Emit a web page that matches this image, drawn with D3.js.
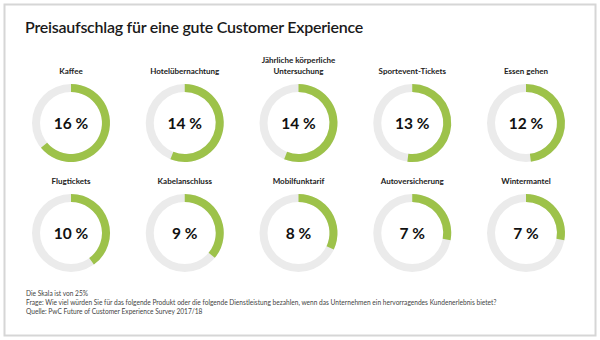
<!DOCTYPE html>
<html>
<head>
<meta charset="utf-8">
<title>Preisaufschlag</title>
<script src="https://cdnjs.cloudflare.com/ajax/libs/d3/7.8.5/d3.min.js"></script>
<style>
  body { margin: 0; background: #fff; }
  text { font-family: Lato, "Open Sans", sans-serif; }
</style>
</head>
<body>
<svg id="chart" width="600" height="340"></svg>
<script>
// data
var categories = ['Kaffee', 'Hotelübernachtung', 'Jährliche körperliche\nUntersuchung', 'Sportevent-Tickets', 'Essen gehen',
                  'Flugtickets', 'Kabelanschluss', 'Mobilfunktarif', 'Autoversicherung', 'Wintermantel'];
var values = [16, 14, 14, 13, 12, 10, 9, 8, 7, 7];
var scaleMax = 25;
var notes = [
  'Die Skala ist von 25%',
  'Frage: Wie viel würden Sie für das folgende Produkt oder die folgende Dienstleistung bezahlen, wenn das Unternehmen ein hervorragendes Kundenerlebnis bietet?',
  'Quelle: PwC Future of Customer Experience Survey 2017/18'
];

var svg = d3.select('#chart');

svg.append('rect')
   .attr('x', 4.5).attr('y', 4.5)
   .attr('width', 591).attr('height', 331)
   .attr('fill', '#fff')
   .attr('stroke', '#d6d6d6')
   .attr('stroke-width', 2);

svg.append('text')
   .attr('x', 25).attr('y', 33)
   .attr('font-size', 16)
   .attr('font-weight', 600)
   .attr('letter-spacing', -0.25)
   .attr('fill', '#1a1a1a')
   .text('Preisaufschlag für eine gute Customer Experience');

var col = d3.scalePoint().domain(d3.range(5)).range([71, 526]);
var row = d3.scalePoint().domain(d3.range(2)).range([123, 233]);
var angle = d3.scaleLinear().domain([0, scaleMax]).range([0, 2 * Math.PI]);

var arc = d3.arc().innerRadius(31).outerRadius(39);

var cells = svg.selectAll('g.donut')
  .data(values)
  .enter().append('g')
  .attr('class', 'donut')
  .attr('transform', function(d, i) {
    return 'translate(' + col(i % 5) + ',' + row(Math.floor(i / 5)) + ')';
  });

cells.append('path')
  .attr('d', arc({ startAngle: 0, endAngle: 2 * Math.PI }))
  .attr('fill', '#ebebeb');

cells.append('path')
  .attr('d', function(d) { return arc({ startAngle: 0, endAngle: angle(d) }); })
  .attr('fill', '#9dc24a');

cells.append('text')
  .attr('text-anchor', 'middle')
  .attr('y', 6)
  .attr('font-size', 15.5)
  .attr('font-weight', 700)
  .attr('fill', '#111')
  .text(function(d) { return d + ' %'; });

cells.each(function(d, i) {
  var lines = categories[i].split('\n');
  var t = d3.select(this).append('text')
    .attr('text-anchor', 'middle')
    .attr('font-size', 8)
    .attr('font-weight', 700)
    .attr('fill', '#222');
  lines.forEach(function(l, j) {
    t.append('tspan')
      .attr('x', 0)
      .attr('y', -49 - (lines.length - 1 - j) * 11)
      .text(l);
  });
});

svg.selectAll('text.note')
  .data(notes)
  .enter().append('text')
  .attr('class', 'note')
  .attr('x', 26)
  .attr('y', function(d, i) { return 296 + i * 9; })
  .attr('font-size', 6.6)
  .attr('fill', '#444')
  .text(function(d) { return d; });
</script>
</body>
</html>
